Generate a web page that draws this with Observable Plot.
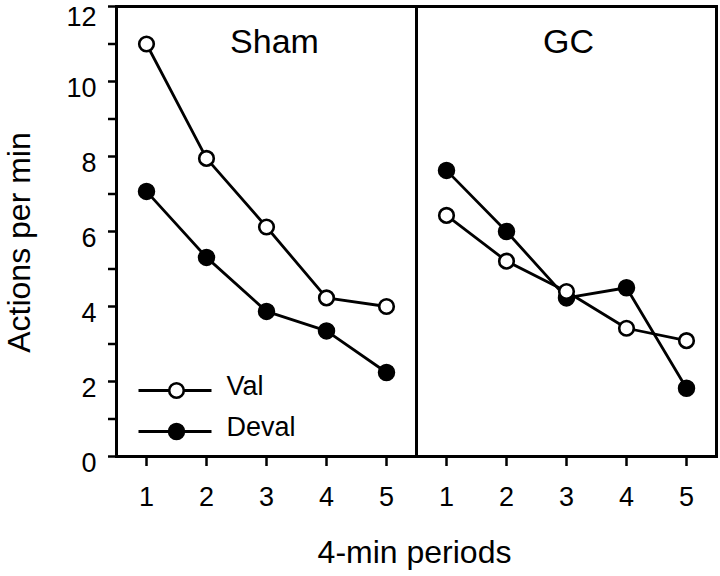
<!DOCTYPE html>
<html>
<head>
<meta charset="utf-8">
<script src="https://cdn.jsdelivr.net/npm/d3@7"></script>
<script src="https://cdn.jsdelivr.net/npm/@observablehq/plot@0.6"></script>
<style>
  body { margin: 0; background: #fff; }
  #chart svg { display: block; }
</style>
</head>
<body>
<div id="chart"></div>
<script>
// ---- data ----
const groups = ["Sham", "GC"];
const periods = [1, 2, 3, 4, 5];
const series = ["Val", "Deval"];
const shamVal   = [11.0, 7.95, 6.12, 4.23, 4.0];
const shamDeval = [7.07, 5.31, 3.87, 3.35, 2.24];
const gcVal     = [6.43, 5.21, 4.40, 3.42, 3.09];
const gcDeval   = [7.63, 6.0, 4.23, 4.5, 1.82];
const yTicks  = [0, 1, 2, 3, 4, 5, 6, 7, 8, 9, 10, 11, 12];
const yLabels = [0, 2, 4, 6, 8, 10];
const yTopLabel = [12];
const yTitle = "Actions per min";
const xTitle = "4-min periods";

const values = {
  Sham: {Val: shamVal, Deval: shamDeval},
  GC: {Val: gcVal, Deval: gcDeval}
};
const rows = [];
groups.forEach(g => series.forEach(s => periods.forEach((p, i) =>
  rows.push({group: g, series: s, period: p, value: values[g][s][i]}))));

const font = "'Liberation Sans', Arial, Helvetica, sans-serif";
const lineSymbol = {draw(ctx) { ctx.moveTo(-36.5, 0); ctx.lineTo(36.5, 0); }};
const legendDy = [-66, -25];
const legendTextDy = [-62, -21];
const panelDx = [8, 2];
const fill = {Val: "white", Deval: "black"};
const first = () => groups[0];
const yLabelStyle = {fx: first, y: d => d, text: d => String(d), frameAnchor: "left",
  dx: -20, textAnchor: "end", fontSize: 27, fill: "black"};

const chart = Plot.plot({
  width: 720,
  height: 576,
  marginLeft: 115,
  marginRight: 4,
  marginTop: 6,
  marginBottom: 120,
  style: {fontFamily: font, background: "white", color: "black"},
  fx: {domain: groups, padding: 0, axis: null, label: null},
  x: {domain: [0.5, 5.5], label: null},
  y: {domain: [0, 12], label: null},
  marks: [
    Plot.frame({stroke: "black", strokeWidth: 3}),
    Plot.axisY({ticks: yTicks, tickSize: 8, tickFormat: () => "", strokeWidth: 2.5, label: null}),
    Plot.text(yLabels, {...yLabelStyle, dy: 7}),
    Plot.text(yTopLabel, {...yLabelStyle, dy: 11}),
    Plot.axisX({ticks: periods, tickSize: 10, tickPadding: 20, fontSize: 27,
      strokeWidth: 2.5, tickFormat: d => String(d), label: null}),
    Plot.line(rows, {fx: "group", x: "period", y: "value", z: "series",
      stroke: "black", strokeWidth: 2.8}),
    Plot.dot(rows.filter(d => d.series === "Deval"), {fx: "group", x: "period", y: "value",
      r: 8, fill: "black", stroke: "black", strokeWidth: 1.5}),
    Plot.dot(rows.filter(d => d.series === "Val"), {fx: "group", x: "period", y: "value",
      r: 7.3, fill: "white", stroke: "black", strokeWidth: 2.6}),
    // legend
    ...series.map((s, i) => [
      Plot.dot([s], {fx: first, frameAnchor: "bottom-left", dx: 58.5, dy: legendDy[i],
        symbol: lineSymbol, fill: "none", stroke: "black", strokeWidth: 2.8}),
      Plot.dot([s], {fx: first, frameAnchor: "bottom-left", dx: 60, dy: legendDy[i],
        r: s === "Val" ? 7.3 : 8, fill: fill[s], stroke: "black", strokeWidth: s === "Val" ? 2.6 : 1.5}),
      Plot.text([s], {fx: first, frameAnchor: "bottom-left", text: d => d, dx: 110, dy: legendTextDy[i],
        textAnchor: "start", fontSize: 27, fill: "black"})
    ]),
    // panel labels
    ...groups.map((g, i) => Plot.text([g], {fx: d => d, text: d => d, frameAnchor: "top",
      dx: panelDx[i], dy: 22, lineAnchor: "top", textAnchor: "middle", fontSize: 34, fill: "black"})),
    // axis titles
    Plot.text([yTitle], {fx: first, text: d => d, frameAnchor: "left", rotate: -90,
      dx: -97, dy: 11, textAnchor: "middle", fontSize: 32, fill: "black"}),
    Plot.text([xTitle], {fx: () => groups[1], text: d => d, frameAnchor: "bottom-left",
      dx: -2, dy: 84, lineAnchor: "top", textAnchor: "middle", fontSize: 32, fill: "black"})
  ]
});
document.getElementById("chart").appendChild(chart);
</script>
</body>
</html>
